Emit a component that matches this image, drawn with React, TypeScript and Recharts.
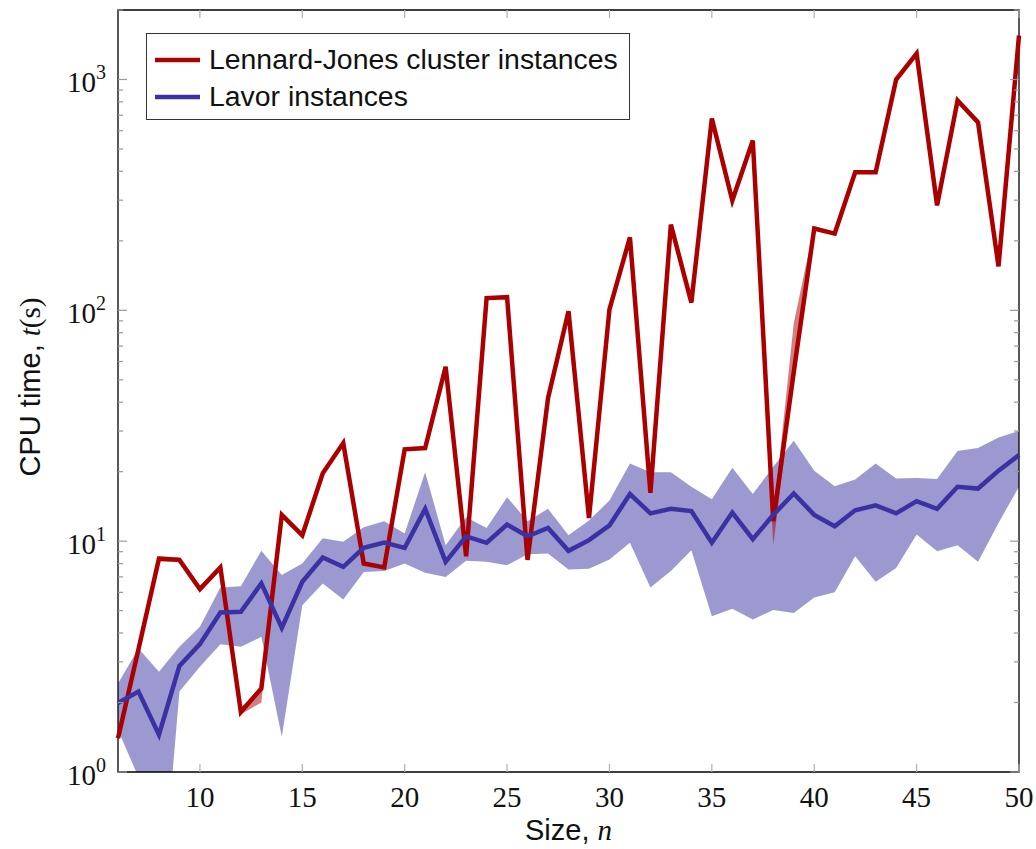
import React from "react";
import {
  Area,
  ComposedChart,
  Label,
  Legend,
  Line,
  ReferenceArea,
  XAxis,
  YAxis,
} from "recharts";

// problem size n
const sizes = [
  6, 7, 8, 9, 10, 11, 12, 13, 14, 15, 16, 17, 18, 19, 20, 21, 22, 23, 24, 25,
  26, 27, 28, 29, 30, 31, 32, 33, 34, 35, 36, 37, 38, 39, 40, 41, 42, 43, 44,
  45, 46, 47, 48, 49, 50,
];

// Lennard-Jones cluster instances: mean CPU time and spread
const ljTime = [
  1.4, 3.4, 8.4, 8.3, 6.2, 7.7, 1.82, 2.3, 13.0, 10.6, 19.7, 26.6, 8.0, 7.7,
  25.0, 25.3, 57, 8.6, 113, 114, 8.3, 41.6, 99, 12.6, 101, 207, 16.2, 235, 108,
  678, 299, 544, 12.2, 54, 226, 215, 396, 396, 1000, 1296, 285, 811, 652, 155,
  1550,
];
const ljLow = [
  1.38, 3.35, 8.2, 8.1, 6.1, 7.6, 1.78, 2.0, 12.8, 10.5, 19.5, 26.3, 7.9, 7.6,
  24.7, 25.0, 56, 8.5, 112, 113, 8.2, 41, 98, 12.4, 100, 205, 16.0, 232, 107,
  670, 296, 538, 9.6, 50, 222, 212, 392, 392, 990, 1280, 282, 802, 645, 153,
  1530,
];
const ljHigh = [
  1.42, 3.45, 8.6, 8.5, 6.3, 7.8, 1.9, 2.35, 13.2, 10.7, 19.9, 26.9, 8.1, 7.8,
  25.3, 25.6, 58, 8.7, 114, 115, 8.4, 42.2, 100, 12.8, 102, 209, 16.4, 238, 109,
  686, 302, 550, 12.6, 88, 232, 218, 400, 400, 1010, 1310, 288, 820, 659, 157,
  1570,
];

// Lavor instances: mean CPU time and spread
const lavorTime = [
  1.99, 2.23, 1.45, 2.88, 3.58, 4.91, 4.94, 6.56, 4.21, 6.67, 8.5, 7.74, 9.35,
  9.87, 9.35, 13.8, 8.14, 10.5, 9.84, 11.8, 10.5, 11.4, 9.08, 10.1, 11.7, 16.0,
  13.2, 13.8, 13.5, 9.84, 13.3, 10.2, 13.0, 16.1, 13.0, 11.6, 13.6, 14.3, 13.2,
  14.9, 13.8, 17.2, 16.9, 20.2, 23.6,
];
const lavorLow = [
  1.52, 0.95, 0.2, 2.23, 2.86, 3.58, 3.49, 3.85, 1.42, 5.28, 6.56, 5.59, 7.36,
  7.43, 8.0, 7.29, 7.0, 8.22, 8.14, 7.87, 8.78, 8.85, 7.54, 7.59, 8.33, 9.84,
  6.3, 7.43, 9.14, 4.73, 5.09, 4.58, 5.03, 4.89, 5.7, 6.0, 8.61, 6.67, 7.66,
  10.7, 9.05, 9.6, 8.14, 12.0, 17.2,
];
const lavorHigh = [
  2.42, 3.43, 2.72, 3.49, 4.26, 6.3, 6.38, 9.08, 7.13, 8.0, 10.3, 9.93, 11.5,
  12.2, 10.8, 19.9, 9.6, 12.7, 11.4, 15.5, 12.2, 13.8, 10.6, 12.3, 15.0, 21.7,
  19.9, 19.9, 17.2, 15.2, 20.8, 16.0, 21.0, 27.2, 20.2, 17.3, 18.5, 21.7, 18.7,
  18.8, 18.6, 24.6, 25.3, 28.1, 30.0,
];

const seriesNames = ["Lennard-Jones cluster instances", "Lavor instances"];
const xTicks = [10, 15, 20, 25, 30, 35, 40, 45, 50];
const yTicks = [
  1, 2, 3, 4, 5, 6, 7, 8, 9, 10, 20, 30, 40, 50, 60, 70, 80, 90, 100, 200, 300,
  400, 500, 600, 700, 800, 900, 1000, 2000,
];

const RED = "#aa0000";
const BLUE = "#3a32a2";
const SERIF = "'Liberation Serif', serif";
const SANS = "'Liberation Sans', sans-serif";

const W = 1036;
const H = 849;
const margin = { top: 10, right: 17, bottom: 17, left: 18 };
const Y_AXIS_W = 100;
const X_AXIS_H = 60;
const PLOT_W = W - margin.left - margin.right - Y_AXIS_W;
const PLOT_H = H - margin.top - margin.bottom - X_AXIS_H;

const data = sizes.map((n, i) => ({
  n,
  lj: ljTime[i],
  ljBand: [ljLow[i], ljHigh[i]],
  lavor: lavorTime[i],
  lavorBand: [lavorLow[i], lavorHigh[i]],
}));

const XTick = (props: any) => {
  const { x, y, payload } = props;
  return (
    <g>
      <line x1={x} x2={x} y1={y} y2={y - 8} stroke="#b0b0b0" strokeWidth={1.2} />
      <line
        x1={x}
        x2={x}
        y1={y - PLOT_H}
        y2={y - PLOT_H + 8}
        stroke="#b0b0b0"
        strokeWidth={1.2}
      />
      <text
        x={x}
        y={y}
        dy={35}
        textAnchor="middle"
        fontFamily={SERIF}
        fontSize={29}
        fill="#111"
      >
        {payload.value}
      </text>
    </g>
  );
};

const YTick = (props: any) => {
  const { x, y, payload } = props;
  const exp = Math.log10(payload.value);
  const major = Math.abs(exp - Math.round(exp)) < 1e-9;
  const len = major ? 9 : 5;
  return (
    <g>
      <line x1={x} x2={x + len} y1={y} y2={y} stroke="#999" strokeWidth={1.2} />
      <line
        x1={x + PLOT_W - len}
        x2={x + PLOT_W}
        y1={y}
        y2={y}
        stroke="#999"
        strokeWidth={1.2}
      />
      {major && (
        <text
          x={x - 12}
          y={y}
          dy={13}
          textAnchor="end"
          fontFamily={SERIF}
          fontSize={29}
          fill="#111"
        >
          10
          <tspan dy={-13} fontSize={20}>
            {Math.round(exp)}
          </tspan>
        </text>
      )}
    </g>
  );
};

const LegendBox = (props: any) => {
  const items = (props.payload || [])
    .filter((p: any) => p.type !== "none")
    .sort(
      (a: any, b: any) =>
        seriesNames.indexOf(a.value) - seriesNames.indexOf(b.value)
    );
  return (
    <div
      style={{
        boxSizing: "border-box",
        width: 484,
        height: 87,
        border: "1px solid #333",
        background: "#fff",
        padding: "7px 0 0 8px",
      }}
    >
      {items.map((it: any) => (
        <div
          key={it.value}
          style={{ display: "flex", alignItems: "center", height: 37 }}
        >
          <svg width={45} height={6} style={{ marginRight: 9 }}>
            <line x1={0} x2={45} y1={3} y2={3} stroke={it.color} strokeWidth={4.5} />
          </svg>
          <span
            style={{
              fontFamily: SANS,
              fontSize: 28.4,
              color: "#111",
              lineHeight: "37px",
            }}
          >
            {it.value}
          </span>
        </div>
      ))}
    </div>
  );
};

export default function App() {
  return (
    <div style={{ position: "absolute", left: 0, top: 0, background: "#fff" }}>
      <ComposedChart width={W} height={H} data={data} margin={margin}>
        <XAxis
          dataKey="n"
          type="number"
          domain={[6, 50]}
          ticks={xTicks}
          interval={0}
          height={X_AXIS_H}
          axisLine={false}
          tickLine={false}
          tickSize={0}
          tickMargin={0}
          tick={<XTick />}
        >
          <Label
            content={(p: any) => {
              const vb = p.viewBox;
              return (
                <text
                  x={vb.x + vb.width / 2}
                  y={vb.y + 68}
                  textAnchor="middle"
                  fontFamily={SANS}
                  fontSize={29}
                  fill="#111"
                >
                  Size,{" "}
                  <tspan fontFamily={SERIF} fontStyle="italic">
                    n
                  </tspan>
                </text>
              );
            }}
          />
        </XAxis>
        <YAxis
          type="number"
          scale="log"
          domain={[1, 2000]}
          allowDataOverflow
          ticks={yTicks}
          interval={0}
          width={Y_AXIS_W}
          axisLine={false}
          tickLine={false}
          tickSize={0}
          tickMargin={0}
          tick={<YTick />}
        >
          <Label
            content={(p: any) => {
              const vb = p.viewBox;
              const cx = vb.x + 22;
              const cy = vb.y + vb.height / 2 - 4;
              return (
                <text
                  x={cx}
                  y={cy}
                  transform={`rotate(-90, ${cx}, ${cy})`}
                  textAnchor="middle"
                  fontFamily={SANS}
                  fontSize={29}
                  fill="#111"
                >
                  CPU time,{" "}
                  <tspan fontFamily={SERIF} fontStyle="italic">
                    t
                  </tspan>
                  <tspan fontFamily={SERIF}>(s)</tspan>
                </text>
              );
            }}
          />
        </YAxis>
        <Area
          dataKey="lavorBand"
          type="linear"
          stroke="none"
          fill={BLUE}
          fillOpacity={0.5}
          legendType="none"
          dot={false}
          activeDot={false}
          isAnimationActive={false}
        />
        <Area
          dataKey="ljBand"
          type="linear"
          stroke="none"
          fill={RED}
          fillOpacity={0.5}
          legendType="none"
          dot={false}
          activeDot={false}
          isAnimationActive={false}
        />
        <Line
          dataKey="lj"
          name={seriesNames[0]}
          type="linear"
          stroke={RED}
          strokeWidth={4.5}
          dot={false}
          activeDot={false}
          isAnimationActive={false}
        />
        <Line
          dataKey="lavor"
          name={seriesNames[1]}
          type="linear"
          stroke={BLUE}
          strokeWidth={4.5}
          dot={false}
          activeDot={false}
          isAnimationActive={false}
        />
        <ReferenceArea
          x1={6}
          x2={50}
          y1={1}
          y2={2000}
          fill="none"
          stroke="#000"
          strokeWidth={1.3}
          ifOverflow="visible"
        />
        <Legend
          layout="vertical"
          align="center"
          verticalAlign="middle"
          content={<LegendBox />}
          wrapperStyle={{ left: 146, top: 33, width: 484 }}
        />
      </ComposedChart>
    </div>
  );
}
